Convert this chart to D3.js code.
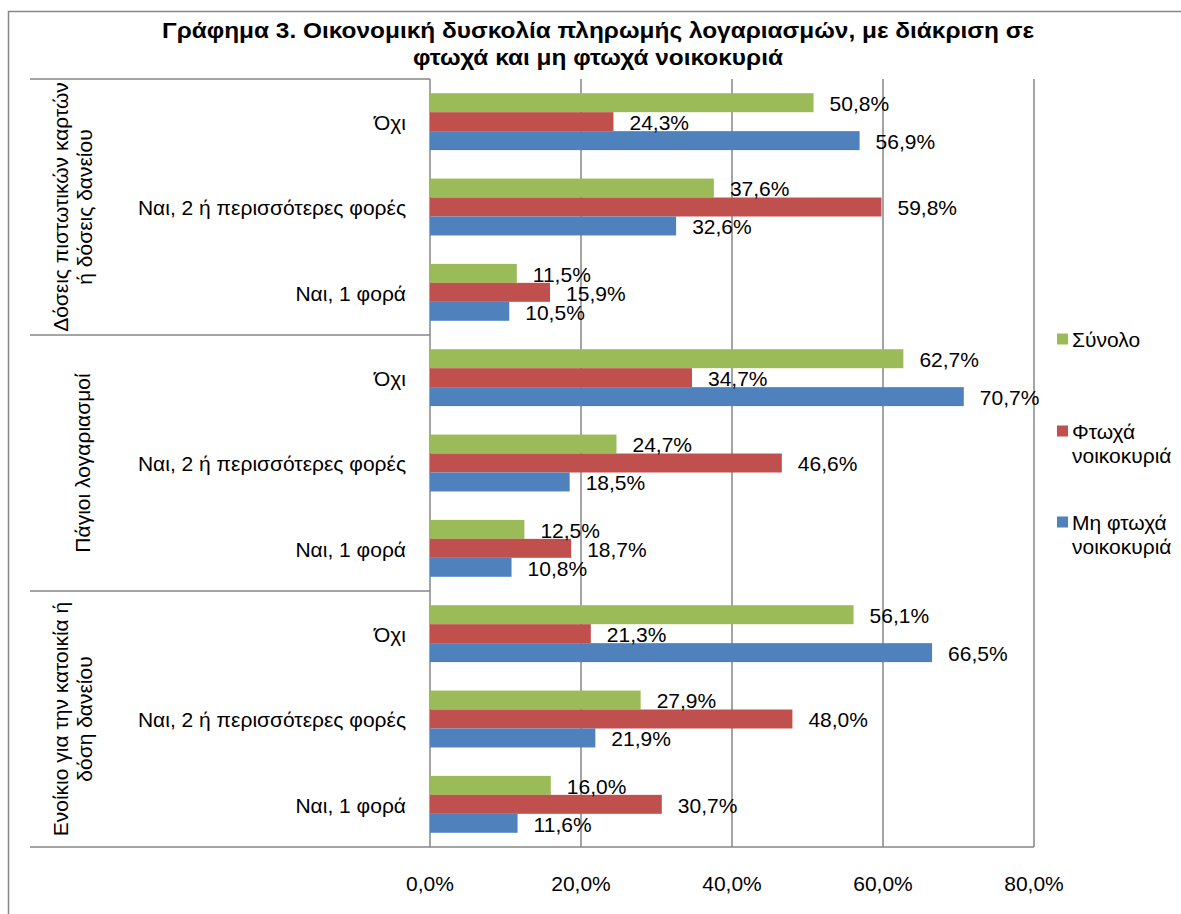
<!DOCTYPE html>
<html lang="el">
<head>
	<meta charset="utf-8">
	<title>Γράφημα 3</title>
	<script src="https://d3js.org/d3.v7.min.js"></script>
	<style>
		body { margin: 0; background: #fff; }
		text { font-family: "Liberation Sans", Arial, sans-serif; fill: #000; }
	</style>
</head>
<body>
	<script>

	// data
	var groups = [
		["Δόσεις πιστωτικών καρτών", "ή δόσεις  δανείου"],
		["Πάγιοι  λογαριασμοί"],
		["Ενοίκιο για την κατοικία ή", "δόση δανείου"]
	];
	var answers = ["Όχι", "Ναι, 2 ή περισσότερες φορές", "Ναι, 1 φορά"];
	var series = ["Σύνολο", "Φτωχά νοικοκυριά", "Μη φτωχά νοικοκυριά"];
	var legendLines = [["Σύνολο"], ["Φτωχά", "νοικοκυριά"], ["Μη φτωχά", "νοικοκυριά"]];
	var colors = ["#9bbb59", "#c0504d", "#4f81bd"];

	// one array per series, 9 values: group by group, answers in order
	var synolo   = [50.8, 37.6, 11.5, 62.7, 24.7, 12.5, 56.1, 27.9, 16.0];
	var ftoxa    = [24.3, 59.8, 15.9, 34.7, 46.6, 18.7, 21.3, 48.0, 30.7];
	var mhFtoxa  = [56.9, 32.6, 10.5, 70.7, 18.5, 10.8, 66.5, 21.9, 11.6];
	var values = [synolo, ftoxa, mhFtoxa];

	var ticks = [0, 20, 40, 60, 80];
	var title = ["Γράφημα 3. Οικονομική δυσκολία πληρωμής λογαριασμών, με διάκριση σε",
	             "φτωχά και μη φτωχά νοικοκυριά"];

	var width = 1181,
	    height = 914;

	var svg = d3.select("body").append("svg")
	    .attr("width", width)
	    .attr("height", height);

	// outer chart border (runs off the picture on the right and bottom)
	svg.append("rect")
	    .attr("x", 8.5)
	    .attr("y", 11.5)
	    .attr("width", 1200)
	    .attr("height", 950)
	    .attr("fill", "none")
	    .attr("stroke", "#868686")
	    .attr("stroke-width", 1.5);

	var rows = [];
	groups.forEach(function(g, gi) {
		answers.forEach(function(a, ai) { rows.push(gi + "|" + ai); });
	});

	var x = d3.scaleLinear()
	    .domain([0, 80])
	    .range([430, 1034]);

	var y = d3.scaleBand()
	    .domain(rows)
	    .range([79, 847]);

	var inner = y.bandwidth() * 3 / 4.5;
	var y1 = d3.scaleBand()
	    .domain(d3.range(series.length))
	    .range([(y.bandwidth() - inner) / 2, (y.bandwidth() + inner) / 2]);

	var fmt = function(v) { return d3.format(".1f")(v).replace(".", ",") + "%"; };

	// title (the original is a little wider than Liberation Sans bold)
	svg.append("g")
	    .attr("transform", "translate(598,0) scale(1.11,1)")
	    .selectAll("text")
	    .data(title)
	    .enter().append("text")
	    .attr("x", 0)
	    .attr("y", function(d, i) { return 38 + i * 27; })
	    .attr("text-anchor", "middle")
	    .attr("font-size", "22px")
	    .attr("font-weight", "bold")
	    .text(function(d) { return d; });

	// gridlines
	svg.append("g").selectAll("line")
	    .data(ticks)
	    .enter().append("line")
	    .attr("x1", function(d) { return x(d); })
	    .attr("x2", function(d) { return x(d); })
	    .attr("y1", y.range()[0])
	    .attr("y2", y.range()[1])
	    .attr("stroke", "#868686")
	    .attr("stroke-width", 1.5);

	// group separators on the category axis
	var seps = [0, 3, 6].map(function(i) { return y(rows[i]); });
	svg.append("g").selectAll("line")
	    .data(seps)
	    .enter().append("line")
	    .attr("x1", 30)
	    .attr("x2", x(0))
	    .attr("y1", function(d) { return d; })
	    .attr("y2", function(d) { return d; })
	    .attr("stroke", "#868686")
	    .attr("stroke-width", 1.5);

	svg.append("line")
	    .attr("x1", 30)
	    .attr("x2", x(80))
	    .attr("y1", y.range()[1])
	    .attr("y2", y.range()[1])
	    .attr("stroke", "#868686")
	    .attr("stroke-width", 1.5);

	// bars
	var row = svg.append("g").selectAll("g")
	    .data(rows)
	    .enter().append("g")
	    .attr("transform", function(d) { return "translate(0," + y(d) + ")"; });

	row.selectAll("rect")
	    .data(function(d, i) { return values.map(function(s, si) { return { s: si, v: s[i] }; }); })
	    .enter().append("rect")
	    .attr("x", x(0))
	    .attr("y", function(d) { return y1(d.s); })
	    .attr("width", function(d) { return x(d.v) - x(0); })
	    .attr("height", y1.bandwidth())
	    .attr("fill", function(d) { return colors[d.s]; });

	row.selectAll("text.val")
	    .data(function(d, i) { return values.map(function(s, si) { return { s: si, v: s[i] }; }); })
	    .enter().append("text")
	    .attr("class", "val")
	    .attr("x", function(d) { return x(d.v) + 16; })
	    .attr("y", function(d) { return y1(d.s) + y1.bandwidth() / 2; })
	    .attr("dy", "0.4em")
	    .attr("font-size", "21px")
	    .text(function(d) { return fmt(d.v); });

	// answer labels
	row.append("text")
	    .attr("x", 406)
	    .attr("y", y.bandwidth() / 2)
	    .attr("dy", "0.4em")
	    .attr("text-anchor", "end")
	    .attr("font-size", "21px")
	    .text(function(d) { return answers[+d.split("|")[1]]; });

	// group labels, rotated
	groups.forEach(function(g, gi) {
		var cy = (y(rows[gi * 3]) + y(rows[gi * 3 + 2]) + y.bandwidth()) / 2;
		var t = svg.append("text")
		    .attr("transform", "translate(" + (g.length > 1 ? 61 : 83) + "," + cy + ") rotate(-90)")
		    .attr("text-anchor", "middle")
		    .attr("font-size", "21px");
		t.selectAll("tspan")
		    .data(g)
		    .enter().append("tspan")
		    .attr("x", 0)
		    .attr("dy", function(d, i) { return i ? "1.12em" : "0.35em"; })
		    .text(function(d) { return d; });
	});

	// x axis labels
	svg.append("g").selectAll("text")
	    .data(ticks)
	    .enter().append("text")
	    .attr("x", function(d) { return x(d); })
	    .attr("y", 891)
	    .attr("text-anchor", "middle")
	    .attr("font-size", "21px")
	    .text(function(d) { return fmt(d); });

	// legend
	var legY = [339, 431, 522];
	var leg = svg.append("g").selectAll("g")
	    .data(series)
	    .enter().append("g")
	    .attr("transform", function(d, i) { return "translate(1057," + legY[i] + ")"; });

	leg.append("rect")
	    .attr("y", -5.5)
	    .attr("width", 11)
	    .attr("height", 11)
	    .attr("fill", function(d, i) { return colors[i]; });

	leg.append("text")
	    .attr("x", 15)
	    .attr("font-size", "21px")
	    .selectAll("tspan")
	    .data(function(d, i) { return legendLines[i]; })
	    .enter().append("tspan")
	    .attr("x", 15)
	    .attr("dy", function(d, i) { return i ? "1.15em" : "0.38em"; })
	    .text(function(d) { return d; });

	</script>
</body>
</html>
